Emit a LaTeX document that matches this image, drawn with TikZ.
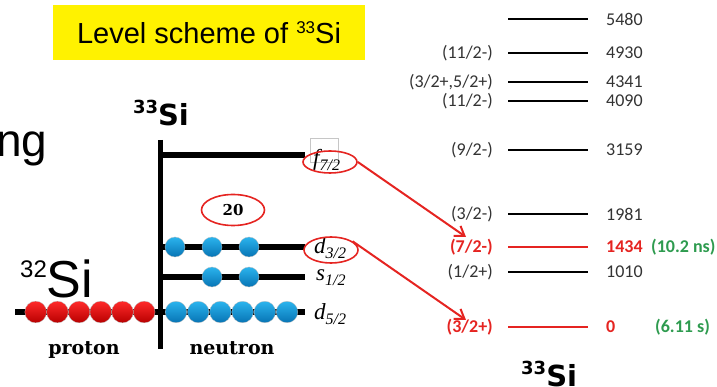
\documentclass[tikz,border=0pt]{standalone}
\usepackage{fontspec}
\setmainfont{Liberation Sans}
\newfontfamily\lvl{Carlito}
\newfontfamily\dvs{DejaVu Sans}
\newfontfamily\dvserif{DejaVu Serif}
\newfontfamily\tms{Liberation Serif}
\usetikzlibrary{shapes.geometric,arrows.meta}
\newcommand\supx[3]{\raisebox{#2}{\fontsize{#1}{#1}\selectfont #3}}
\newcommand\orb[2]{{\tms\itshape\fontsize{23}{24}\selectfont #1\raisebox{-5pt}{\fontsize{16}{16}\selectfont #2}}}
\definecolor{lvred}{HTML}{E52421}
\definecolor{lvgreen}{HTML}{2E9B4F}
\definecolor{lvgray}{HTML}{333333}
\definecolor{nbtop}{HTML}{2BB4EE}
\definecolor{nbbot}{HTML}{0774B4}
\definecolor{pbtop}{HTML}{FF2A2A}
\definecolor{pbbot}{HTML}{B80000}
\begin{document}
\begin{tikzpicture}[x=1pt,y=-1pt,
  shell/.style={line width=6pt},
  axisline/.style={line width=5pt},
  ballbase/.style={circle,inner sep=0pt,draw=gray!50,line width=0.3pt},
  nball/.style={ballbase,top color=nbtop,bottom color=nbbot},
  pball/.style={ballbase,top color=pbtop,bottom color=pbbot},
  lvline/.style={line width=1.9pt},
  spin/.style={anchor=east,inner sep=0pt,font=\lvl\fontsize{18}{20}\selectfont,text=lvgray},
  energy/.style={anchor=west,inner sep=0pt,font=\lvl\fontsize{18}{20}\selectfont,text=lvgray},
  redell/.style={ellipse,draw=lvred,line width=1.6pt,inner sep=0pt},
  redarrow/.style={draw=lvred,line width=2pt,-{Straight Barb[length=9pt,width=12pt,line width=2pt]}},
  orblabel/.style={anchor=west,inner sep=0pt}
]
\useasboundingbox (0,0) rectangle (717,387);

% title
\node[fill=yellow,minimum width=312pt,minimum height=55pt,inner sep=0pt,
      font=\fontsize{29}{32}\selectfont] (title) at (209,32.5)
  {Level scheme of \supx{17}{10pt}{33}Si};

% cut-off word
\node[anchor=base west,inner sep=0pt,font=\fontsize{46}{48}\selectfont] (ng) at (-4,157) {ng};

% 33Si above the scheme
\node[anchor=base,inner sep=0pt,font=\dvs\bfseries\fontsize{29}{30}\selectfont] (si33top) at (161,126)
  {\supx{18}{12pt}{33}Si};

% 32Si
\node[anchor=base west,inner sep=0pt,font=\fontsize{52}{54}\selectfont] (si32) at (20,297)
  {\supx{24}{20pt}{32}Si};

% axis and shells
\coordinate (axtop) at (160,140);
\coordinate (axbot) at (160,349);
\draw[axisline] (axtop) -- (axbot);
\coordinate (fL) at (160,155);  \coordinate (fR) at (305,155);
\coordinate (dtL) at (160,247); \coordinate (dtR) at (305,247);
\coordinate (sL) at (160,277);  \coordinate (sR) at (305,277);
\coordinate (dfL) at (15,312);  \coordinate (dfR) at (305,312);
\draw[shell] (fL) -- (fR);
\draw[shell] (dtL) -- (dtR);
\draw[shell] (sL) -- (sR);
\draw[shell] (dfL) -- (dfR);

% balls
\foreach \x [count=\i] in {35.7,57.4,79.1,100.8,122.5,144.2}
  \node[pball,minimum size=21.7pt] (p\i) at (\x,312) {};
\foreach \x [count=\i] in {176,198.2,220.4,242.6,264.8,287}
  \node[nball,minimum size=21.5pt] (nd\i) at (\x,312) {};
\foreach \x [count=\i] in {212,249}
  \node[nball,minimum size=20pt] (ns\i) at (\x,277) {};
\foreach \x [count=\i] in {175,212,249}
  \node[nball,minimum size=20pt] (nt\i) at (\x,247) {};

% gray square
\node[draw=gray!45,line width=1pt,minimum width=28pt,minimum height=24pt,inner sep=0pt] (sq) at (324,151) {};

% orbital labels
\node[orblabel] (lf) at (313,160) {\orb{f}{7/2}};
\node[orblabel] (ld3) at (314,248) {\orb{d}{3/2}};
\node[orblabel] (ls) at (316,278) {\orb{s}{1/2}};
\node[orblabel] (ld5) at (314,314) {\orb{d}{5/2}};

% red ellipses
\node[redell,minimum width=54pt,minimum height=22pt] (ef) at (330,162) {};
\node[redell,minimum width=54pt,minimum height=26pt] (ed) at (331,250) {};
\node[redell,minimum width=63pt,minimum height=31pt,
      font=\dvserif\bfseries\fontsize{15}{16}\selectfont] (e20) at (233,210) {20};

% proton / neutron
\node[anchor=base,inner sep=0pt,font=\dvserif\bfseries\fontsize{19}{20}\selectfont] (proton) at (84,354) {proton};
\node[anchor=base,inner sep=0pt,font=\dvserif\bfseries\fontsize{19}{20}\selectfont] (neutron) at (232,354) {neutron};

% level scheme
\foreach \y/\nm in {19/a,53/b,82/c,101/d,150/e,214/f,272/h}
  \draw[lvline] (508,\y) coordinate (L\nm) -- (588,\y) coordinate (R\nm);
\draw[lvline,draw=lvred] (508,247) coordinate (Lg) -- (588,247) coordinate (Rg);
\draw[lvline,draw=lvred] (508,327) coordinate (Li) -- (588,327) coordinate (Ri);

\node[energy] (e5480) at (606,19) {5480};
\node[energy] (e4930) at (606,53) {4930};
\node[energy] (e4341) at (606,82) {4341};
\node[energy] (e4090) at (606,101) {4090};
\node[energy] (e3159) at (606,150) {3159};
\node[energy] (e1981) at (606,214) {1981};
\node[energy,text=lvred,font=\lvl\bfseries\fontsize{18}{20}\selectfont] (e1434) at (606,247) {1434};
\node[energy] (e1010) at (606,272) {1010};
\node[energy,text=lvred,font=\lvl\bfseries\fontsize{18}{20}\selectfont] (e0) at (606,327) {0};

\node[spin] (s4930) at (493,53) {(11/2-)};
\node[spin] (s4341) at (493,82) {(3/2+,5/2+)};
\node[spin] (s4090) at (493,101) {(11/2-)};
\node[spin] (s3159) at (493,150) {(9/2-)};
\node[spin] (s1981) at (493,214) {(3/2-)};
\node[spin,text=lvred,font=\lvl\bfseries\fontsize{18}{20}\selectfont] (s1434) at (493,247) {(7/2-)};
\node[spin] (s1010) at (493,272) {(1/2+)};
\node[spin,text=lvred,font=\lvl\bfseries\fontsize{18}{20}\selectfont] (s0) at (493,327) {(3/2+)};

\node[energy,text=lvgreen,font=\lvl\bfseries\fontsize{18}{20}\selectfont] (t1434) at (651,247) {(10.2 ns)};
\node[energy,text=lvgreen,font=\lvl\bfseries\fontsize{18}{20}\selectfont] (t0) at (655,327) {(6.11 s)};

% bottom 33Si
\node[anchor=base west,inner sep=0pt,font=\dvs\bfseries\fontsize{29}{30}\selectfont] (si33bot) at (521,386)
  {\supx{18}{12pt}{33}Si};

% arrows
\coordinate (tip1) at (466,237);
\coordinate (tip2) at (466,320);
\draw[redarrow] (ef.east) -- (tip1);
\draw[redarrow] (ed.22) -- (tip2);
\end{tikzpicture}
\end{document}
